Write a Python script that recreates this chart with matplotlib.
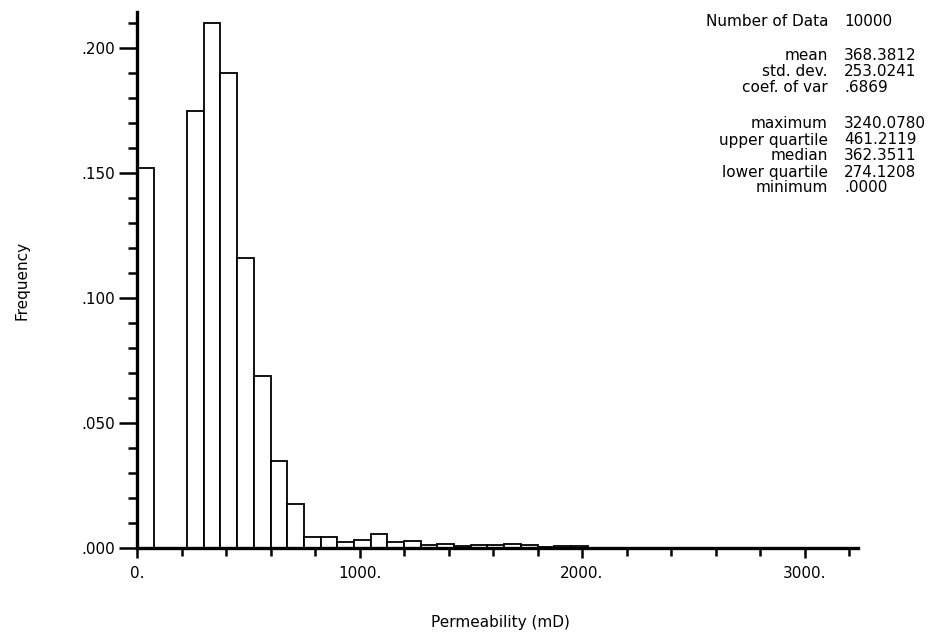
import matplotlib
matplotlib.use("Agg")
import matplotlib.pyplot as plt
from matplotlib.ticker import MultipleLocator, FixedLocator, FuncFormatter

plt.rcParams["font.family"] = ["DejaVu Sans"]

# histogram classes: width 75 mD starting at 0
bin_width = 75.0
freqs = [
    .152, .000, .000, .175, .210, .190, .116, .069, .035, .0176,
    .0045, .0045, .0025, .0032, .0056, .0023, .0027, .0013, .0017, .0008,
    .0013, .0013, .0016, .0013, .0005, .0009, .0009, .0002, .0002, .0001,
    .0001, .0001, .0001, .0001, .0, .0, .0, .0, .0, .0,
    .0, .0, .0, .0001,
]

stat_names = ["Number of Data", "mean", "std. dev.", "coef. of var",
              "maximum", "upper quartile", "median", "lower quartile", "minimum"]
stat_values = ["10000", "368.3812", "253.0241", ".6869",
               "3240.0780", "461.2119", "362.3511", "274.1208", ".0000"]
stat_rows_px = [21, 56, 72, 88, 124, 140, 156, 172, 188]

W, H = 948, 638
fig = plt.figure(figsize=(W / 100, H / 100), dpi=100)
ax = fig.add_axes([137 / W, 1 - 548 / H, (858 - 137) / W, (548 - 12) / H])

lefts = [i * bin_width for i in range(len(freqs))]
ax.bar(lefts, freqs, width=bin_width, align="edge", color="white",
       edgecolor="black", linewidth=1.3, zorder=2)

ax.set_xlim(0, 3240)
ax.set_ylim(0, 0.2145)

for s in ["top", "right"]:
    ax.spines[s].set_visible(False)
for s in ["left", "bottom"]:
    ax.spines[s].set_linewidth(2.4)
    ax.spines[s].set_zorder(3)

ax.xaxis.set_major_locator(FixedLocator([0, 1000, 2000, 3000]))
ax.xaxis.set_minor_locator(MultipleLocator(200))
ax.xaxis.set_major_formatter(FuncFormatter(lambda v, p: "%d." % v))
ax.yaxis.set_major_locator(MultipleLocator(0.05))
ax.yaxis.set_minor_locator(MultipleLocator(0.01))
ax.yaxis.set_major_formatter(FuncFormatter(lambda v, p: ("%.3f" % v)[1:]))

ax.tick_params(axis="x", which="major", direction="out", length=7, width=1.8,
               labelsize=11, pad=6)
ax.tick_params(axis="x", which="minor", direction="out", length=6, width=1.8)
ax.tick_params(axis="y", which="major", direction="out", length=13, width=1.8,
               labelsize=11, pad=3)
ax.tick_params(axis="y", which="minor", direction="out", length=6.5, width=1.8)

fig.text(500 / W, 1 - 622 / H, "Permeability (mD)", ha="center", va="center",
         fontsize=11)
fig.text(22 / W, 1 - 280 / H, "Frequency", ha="center", va="center",
         rotation=90, fontsize=11)

for name, val, ypx in zip(stat_names, stat_values, stat_rows_px):
    fig.text(828 / W, 1 - ypx / H, name, ha="right", va="center", fontsize=11)
    fig.text(844 / W, 1 - ypx / H, val, ha="left", va="center", fontsize=11)

fig.savefig("out.png", dpi=100)
